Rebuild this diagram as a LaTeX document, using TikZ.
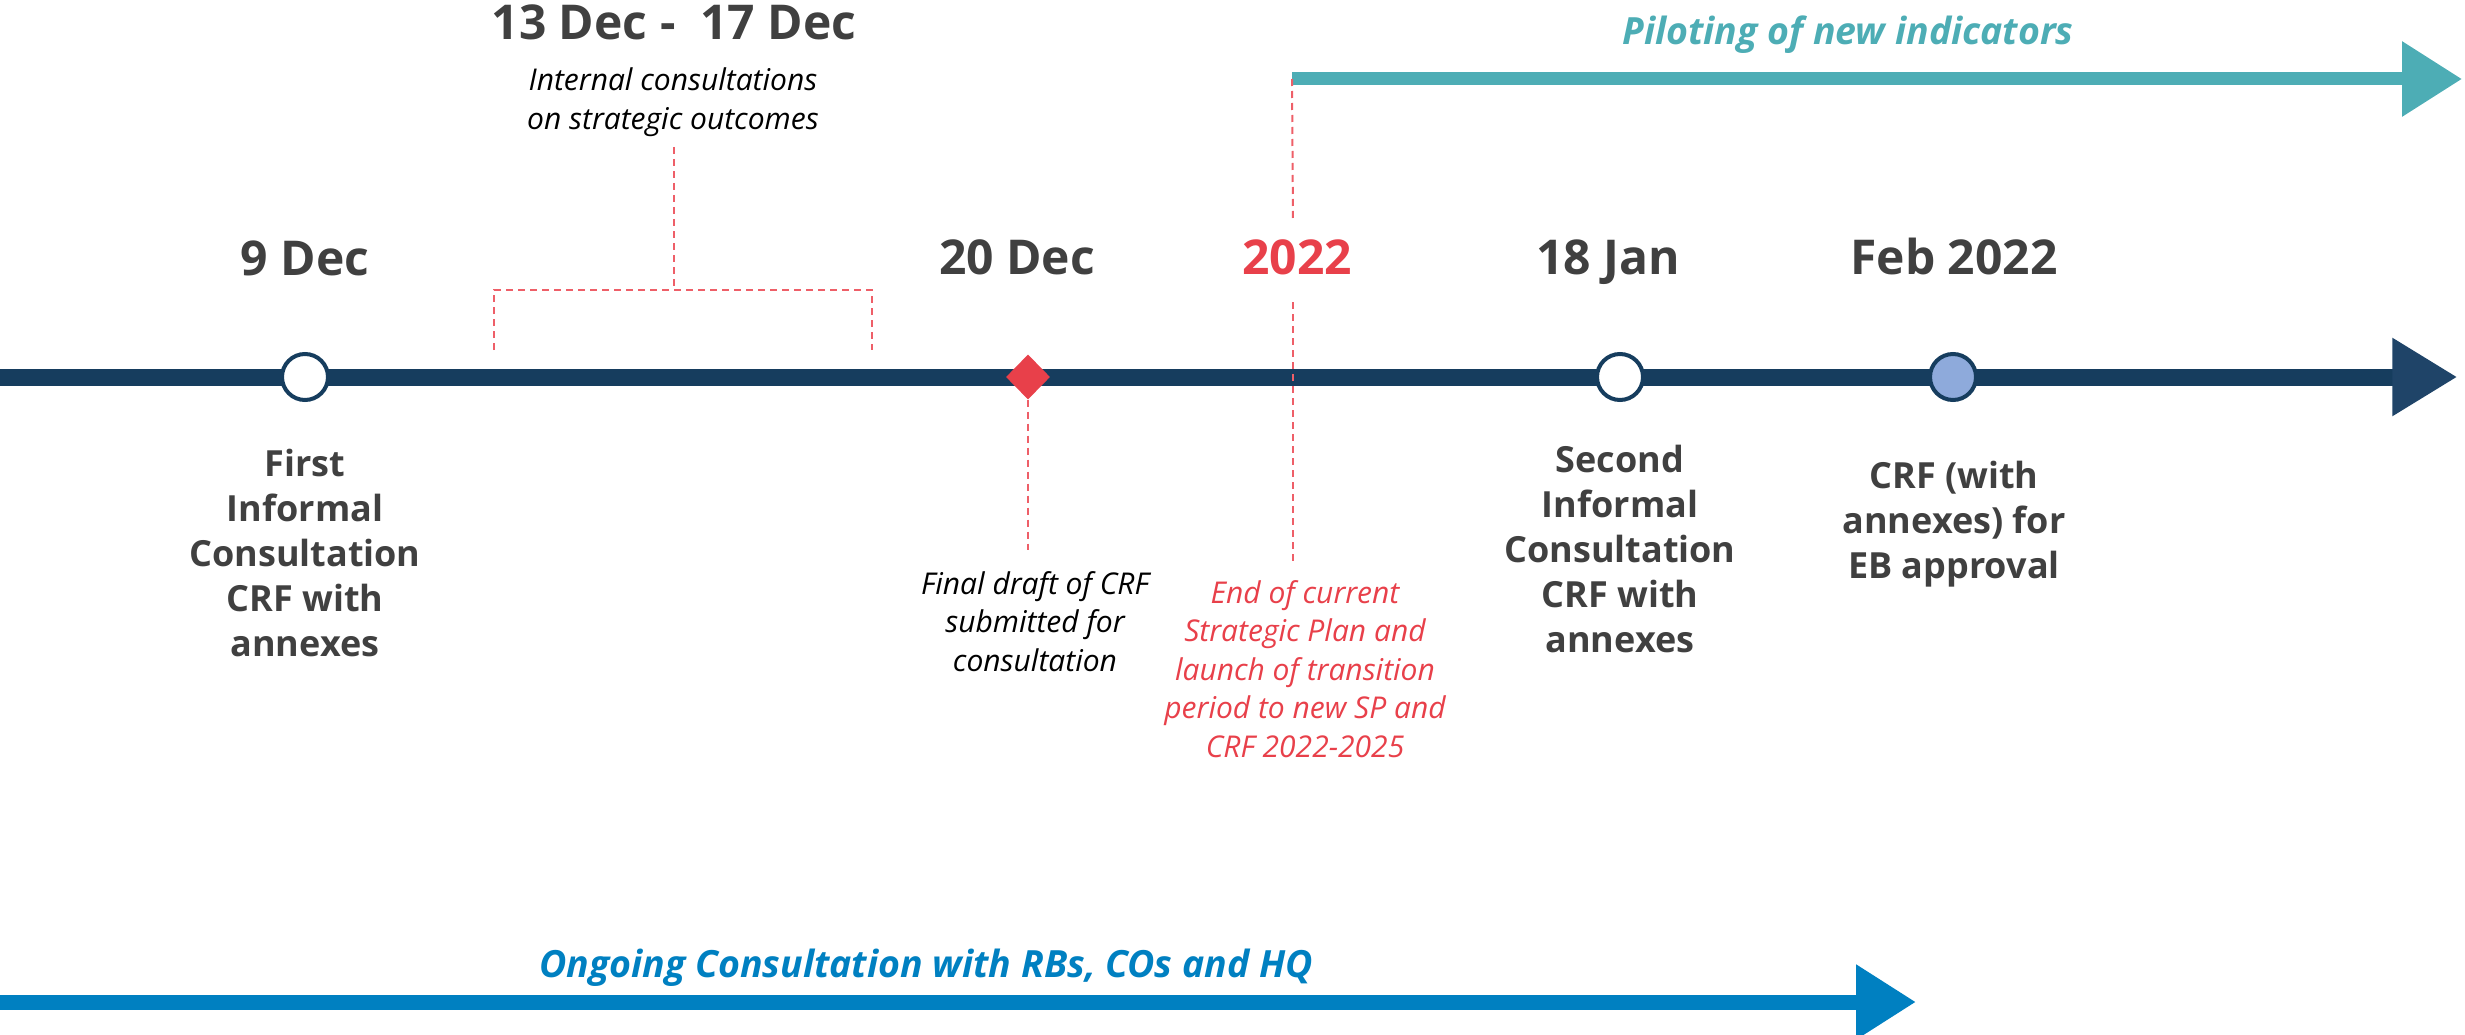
\documentclass[tikz,border=0pt]{standalone}
\usepackage{fontspec}
\setmainfont{Open Sans}
\usetikzlibrary{arrows.meta,shapes.geometric}
\definecolor{navy}{HTML}{163D5E}
\definecolor{headnavy}{HTML}{1F4468}
\definecolor{txtgray}{HTML}{404040}
\definecolor{wred}{HTML}{E8404A}
\definecolor{dashred}{HTML}{EE5F68}
\definecolor{wteal}{HTML}{4DADB5}
\definecolor{wblue}{HTML}{0080C1}
\definecolor{lblue}{HTML}{8EAADB}
\begin{document}
\begin{tikzpicture}[x=1pt,y=-1pt,
  datelbl/.style={font=\fontsize{48}{58}\selectfont\bfseries, text=txtgray, anchor=base, inner sep=0},
  boldlbl/.style={font=\fontsize{36}{45}\selectfont\bfseries, text=txtgray, align=center, anchor=base, inner sep=0},
  itlbl/.style={font=\fontsize{30}{38.5}\selectfont\itshape, align=center, anchor=base, inner sep=0},
  arrlbl/.style={font=\fontsize{37.5}{44}\selectfont\bfseries\itshape, anchor=base, inner sep=0},
  dashline/.style={draw=dashred, line width=2pt, dash pattern=on 7pt off 5pt},
  milestone/.style={circle, draw=navy, line width=4pt, fill=white, minimum size=46pt, inner sep=0}]
\useasboundingbox (0,0) rectangle (2465,1035);

% coordinates
\coordinate (tlA) at (0,377);
\coordinate (tlB) at (2393,377);
\coordinate (plA) at (1292,79);
\coordinate (plB) at (2462,79);
\coordinate (ogA) at (0,1002);
\coordinate (ogB) at (1916,1002);
\coordinate (pl2a) at (1293,222);
\coordinate (pl2b) at (1293,302);
\coordinate (endtop) at (1293,565);
\coordinate (finaltop) at (1028,550);
\coordinate (bL) at (494,350);
\coordinate (bLt) at (494,290);
\coordinate (bR) at (872,350);
\coordinate (bRt) at (872,290);
\coordinate (bC) at (674,290);
\coordinate (bTop) at (674,147);

% arrows
\draw[line width=17pt, navy] (tlA) -- (tlB);
\filldraw[fill=headnavy, draw=headnavy, line width=1.5pt, line join=miter]
  (tlB) ++(0,-38) -- ++(62,38) -- ++(-62,38) -- cycle;
\draw[line width=13pt, wteal, -{Triangle[length=60pt,width=72pt]}] (plA) -- (plB);
\draw[line width=15pt, wblue, -{Triangle[length=60pt,width=71pt]}] (ogA) -- (ogB);

% dashed connectors
\draw[dashline] (bL) -- (bLt) -- (bRt) -- (bR);
\draw[dashline] (bTop) -- (bC);
\draw[dashline] (plA) -- (pl2a);
\draw[dashline] (pl2b) -- (endtop);

% milestones
\node[milestone] (m1) at (305,377) {};
\node[milestone] (m2) at (1620,377) {};
\node[milestone, fill=lblue] (m3) at (1953,377) {};
\node[diamond, fill=wred, minimum width=44pt, minimum height=45pt, inner sep=0] (dm) at (1028,377) {};
\draw[dashline] (dm.south) -- (finaltop);

% dates
\node[datelbl] (d9) at (305,275) {9 Dec};
\node[datelbl] (d13) at (674,40) {13 Dec - \ 17 Dec};
\node[datelbl] (d20) at (1017,274) {20 Dec};
\node[datelbl, text=wred] (d22) at (1297,274) {2022};
\node[datelbl] (d18) at (1608,274) {18 Jan};
\node[datelbl] (dfeb) at (1954,274) {Feb 2022};

% labels (base anchor = baseline of last line)
\node[itlbl] (internal) at (673,129.5) {Internal consultations\\on strategic outcomes};
\node[boldlbl] (first) at (305,656) {First\\Informal\\Consultation\\CRF with\\annexes};
\node[boldlbl] (second) at (1620,652) {Second\\Informal\\Consultation\\CRF with\\annexes};
\node[boldlbl] (crfeb) at (1954,578) {CRF (with\\annexes) for\\EB approval};
\node[itlbl] (final) at (1035,671) {Final draft of CRF\\submitted for\\consultation};
\node[itlbl, text=wred] (endsp) at (1305,757) {End of current\\Strategic Plan and\\launch of transition\\period to new SP and\\CRF 2022-2025};
\node[arrlbl, text=wteal] (pilot) at (1848,45) {Piloting of new indicators};
\node[arrlbl, text=wblue] (ongoing) at (926,977) {Ongoing Consultation with RBs, COs and HQ};
\end{tikzpicture}
\end{document}
